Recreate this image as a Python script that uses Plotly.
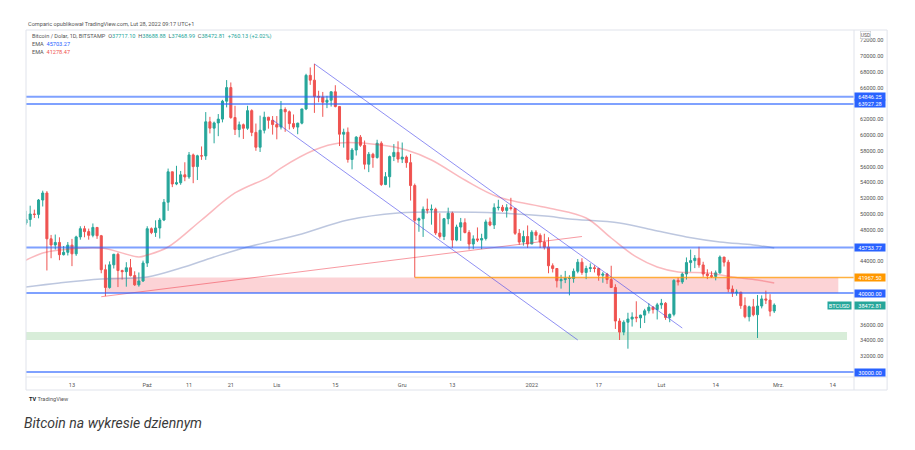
import pandas as pd
import plotly.graph_objects as go

# BTCUSD daily, Bitstamp
dates = pd.date_range("2021-09-01", "2022-02-28", freq="D")

opens = [
    47100, 48850, 49300, 50000, 49950, 51770, 52660, 46860, 46080, 46400, 44850, 45150, 46060, 44960, 47100,
    48140, 47770, 47300, 48300, 47250, 42950, 40700, 43570, 44900, 42840, 42700, 43200, 42200, 41030, 41520,
    43790, 48140, 47650, 48230, 49240, 51490, 55340, 53800, 53960, 54960, 54690, 57480, 56000, 57370, 57350,
    61670, 60870, 61530, 62010, 64280, 66000, 62210, 60690, 61300, 60850, 63080, 60330, 58450, 60600, 62250, 61860,
    61320, 61000, 63230, 62940, 61440, 61000, 61500, 63300, 67550, 66940, 64880, 64800, 64150, 64400, 65470,
    63600, 60100, 60350, 56900, 58100, 59730, 58700, 56300, 57560, 57150, 58960, 53730, 54720, 57270, 57800,
    56950, 57200, 56500, 53600, 49200, 49400, 50600, 50500, 50600, 47600, 47150, 49400, 50100, 46700, 48350,
    48900, 47650, 46200, 46850, 46700, 46900, 49000, 48600, 50800, 50850, 50450, 50800, 50700, 47550, 46450, 47150,
    46200, 47700, 47300, 46450, 45800, 43450, 43100, 41550, 41700, 41850, 41850, 42750, 43900, 42600, 43100,
    43200, 43100, 42250, 42400, 41700, 40700, 36450, 35050, 36300, 36700, 36950, 36850, 37200, 37750, 38200, 37900,
    38500, 38700, 36900, 37300, 41600, 41400, 42400, 43850, 44100, 44400, 43550, 42400, 42200, 42100,
    42550, 44550, 43900, 40500, 40000, 40100, 38400, 37000, 38250, 37250, 38350, 39250, 39100, 37717.10,
]
highs = [
    49150, 50400, 51050, 50550, 51900, 52950, 52900, 47350, 47400, 47050, 45950, 46450, 46850, 47250, 48450,
    48500, 48150, 48800, 48350, 47350, 43600, 44000, 44950, 45100, 42950, 43900, 44300, 42750, 42600, 44100,
    48450, 48300, 49200, 49500, 51900, 55750, 55350, 56100, 55450, 56550, 57850, 57650, 57500, 58550, 62900,
    62300, 61700, 62650, 64450, 66950, 66650, 63700, 61700, 61450, 63700, 63250, 61450, 62450, 62950, 62300, 62400,
    62400, 64300, 63500, 63100, 62600, 61550, 63300, 67750, 68550, 69000, 65600, 65450, 64950, 65500, 66300,
    63600, 60800, 60950, 58350, 59850, 60000, 59300, 57850, 57750, 59400, 59200, 55300, 57400, 58850, 59200,
    59050, 57400, 57600, 53850, 49550, 50950, 51950, 51200, 50800, 50100, 49500, 50800, 50300, 48650, 49500,
    49450, 47950, 47300, 48300, 47500, 49300, 49550, 51350, 51800, 51150, 51250, 52050, 50700, 48100, 47900, 48550,
    47950, 47950, 47550, 47500, 47050, 43750, 43150, 42300, 42800, 42250, 43100, 44300, 44400, 43450, 43750,
    43500, 43200, 42650, 42550, 43450, 41100, 36800, 36550, 37500, 37550, 38950, 37250, 38000, 38700, 38350, 38750,
    39250, 38850, 37400, 41750, 41950, 42600, 44500, 45500, 44800, 45850, 43950, 43000, 42750, 42850,
    44750, 44550, 44200, 40950, 40450, 40150, 39450, 38400, 39250, 39750, 39700, 40300, 39850, 38688.88,
]
lows = [
    46550, 48600, 48400, 49500, 49450, 50950, 42850, 44400, 45500, 44150, 44750, 44750, 43400, 44700, 46750,
    47050, 46750, 47050, 46850, 42500, 39600, 40550, 43100, 40750, 41700, 40800, 42100, 40900, 40800, 41400,
    43300, 47450, 47100, 46900, 49100, 50400, 53400, 53650, 53700, 54150, 54450, 53900, 54300, 56850, 56850,
    60200, 58950, 59850, 61600, 63500, 62050, 60000, 59700, 59500, 60650, 59850, 58000, 57850, 60200, 60800, 60050,
    59450, 60700, 60400, 60700, 60750, 60100, 61350, 63150, 66350, 62800, 64150, 62300, 63400, 63600, 63500,
    58600, 58400, 56500, 55650, 57400, 58500, 55650, 55300, 55850, 57000, 53550, 53650, 53350, 56700, 56500,
    56450, 55850, 51700, 41967.5, 47750, 47100, 50050, 48650, 47350, 46900, 46700, 48700, 45700, 46550, 46600,
    47550, 45500, 45550, 46450, 45550, 46650, 48450, 48100, 50450, 50250, 49550, 50450, 47350, 46100, 46000, 45700,
    46200, 46700, 45700, 45500, 42500, 42600, 40700, 40550, 41250, 39700, 41300, 42500, 42300, 41750, 42650,
    42600, 41550, 41300, 41150, 40650, 35450, 34050, 34650, 32950, 35750, 36300, 35550, 36200, 37400, 37400, 36650,
    38000, 36600, 36300, 37050, 40950, 41150, 41700, 42700, 43150, 43200, 42050, 41750, 41900, 41600,
    42450, 43350, 40100, 39500, 39650, 38000, 36800, 36400, 37050, 34300, 38050, 38600, 37050, 37468.99,
]
closes = [
    48850, 49300, 50000, 49950, 51770, 52660, 46860, 46080, 46400, 44850, 45150, 46060, 44960, 47100, 48140,
    47770, 47300, 48300, 47250, 42950, 40700, 43570, 44900, 42840, 42700, 43200, 42200, 41030, 41520, 43790,
    48140, 47650, 48230, 49240, 51490, 55340, 53800, 53960, 54960, 54690, 57480, 56000, 57370, 57350, 61670,
    60870, 61530, 62010, 64280, 66000, 62210, 60690, 61300, 60850, 63080, 60330, 58450, 60600, 62250, 61860, 61320,
    61000, 63230, 62940, 61440, 61000, 61500, 63300, 67550, 66940, 64880, 64800, 64150, 64400, 65470, 63600,
    60100, 60350, 56900, 58100, 59730, 58700, 56300, 57560, 57150, 58960, 53730, 54720, 57270, 57800, 56950,
    57200, 56500, 53600, 49200, 49400, 50600, 50500, 50600, 47600, 47150, 49400, 50100, 46700, 48350, 48900,
    47650, 46200, 46850, 46700, 46900, 49000, 48600, 50800, 50850, 50450, 50800, 50700, 47550, 46450, 47150, 46200,
    47700, 47300, 46450, 45800, 43450, 43100, 41550, 41700, 41850, 41850, 42750, 43900, 42600, 43100, 43200,
    43100, 42250, 42400, 41700, 40700, 36450, 35050, 36300, 36700, 36950, 36850, 37200, 37750, 38200, 37900, 38500,
    38700, 36900, 37300, 41600, 41400, 42400, 43850, 44100, 44400, 43550, 42400, 42200, 42100, 42550,
    44550, 43900, 40500, 40000, 40100, 38400, 37000, 38250, 37250, 38350, 39250, 39100, 37700, 38472.81,
]

# EMA lines
ema_fast_dates = ["2021-09-01", "2021-09-06", "2021-09-10", "2021-09-20", "2021-09-29", "2021-10-01",
                  "2021-10-06", "2021-10-14", "2021-10-22", "2021-10-30", "2021-11-02", "2021-11-10",
                  "2021-11-16", "2021-11-26", "2021-12-02", "2021-12-08", "2021-12-16", "2021-12-24",
                  "2022-01-05", "2022-01-14", "2022-01-20", "2022-01-26", "2022-01-31", "2022-02-05",
                  "2022-02-12", "2022-02-18", "2022-02-24", "2022-02-28"]
ema_fast = [43900, 45060, 45440, 45700, 44560, 44800, 45820, 49240, 52660, 54680, 55820, 58100,
            58990, 58730, 58100, 56840, 54300, 52150, 50760, 49490, 46960, 44560, 43290, 42660,
            42530, 42030, 41650, 41278.47]
ema_slow_dates = ["2021-09-01", "2021-09-10", "2021-09-20", "2021-10-01", "2021-10-09", "2021-10-17",
                  "2021-10-25", "2021-11-06", "2021-11-18", "2021-11-30", "2021-12-12", "2021-12-24",
                  "2022-01-05", "2022-01-10", "2022-01-22", "2022-01-30", "2022-02-07", "2022-02-15",
                  "2022-02-23", "2022-02-28"]
ema_slow = [40700, 41270, 41770, 42030, 43160, 44560, 45820, 47340, 49240, 50130, 50250, 50130,
            49700, 49370, 48860, 47970, 47090, 46460, 46080, 45703.27]

# drawings
levels = [64846.25, 63927.28, 45753.77, 40000.00, 30000.00]
ray_date, ray_price = "2021-12-04", 41967.50
channel_upper = (["2021-11-10", "2022-02-06"], [69000, 35570])
channel_lower = (["2021-10-31", "2022-01-12"], [61900, 34050])
trend_line = (["2021-09-20", "2022-01-13"], [39530, 47150])
zones = [  # start, end, low, high, colour
    ("2021-09-21", "2022-03-15 08:00", 40000, 41967.5, "rgba(242,54,69,0.22)"),
    ("2021-08-30", "2022-03-17 10:00", 34050, 35050, "rgba(76,175,80,0.22)"),
]

x_ticks = ["2021-09-13", "2021-10-01", "2021-10-11", "2021-10-21", "2021-11-01", "2021-11-15",
           "2021-12-01", "2021-12-13", "2022-01-01", "2022-01-17", "2022-02-01", "2022-02-14",
           "2022-03-01", "2022-03-14"]
x_labels = ["13", "Paź", "11", "21", "Lis", "15", "Gru", "13", "2022", "17", "Lut", "14", "Mrz.", "14"]
y_ticks = [32000, 34000, 36000, 44000, 48000, 50000, 52000, 54000, 56000, 58000, 60000,
           62000, 66000, 68000, 70000, 72000]

UP, DOWN = "#26a69a", "#ef5350"
BLUE = "#2962ff"
FONT = "Roboto"
FS = 5.6

fig = go.Figure()

fig.add_trace(go.Scatter(x=ema_slow_dates, y=ema_slow, mode="lines", line_shape="spline",
                         line=dict(color="rgba(90,115,175,0.4)", width=1.5)))
fig.add_trace(go.Scatter(x=ema_fast_dates, y=ema_fast, mode="lines", line_shape="spline",
                         line=dict(color="rgba(242,54,69,0.35)", width=1.5)))

fig.add_trace(go.Candlestick(
    x=dates, open=opens, high=highs, low=lows, close=closes,
    increasing=dict(line=dict(color=UP, width=1), fillcolor=UP),
    decreasing=dict(line=dict(color=DOWN, width=1), fillcolor=DOWN),
    whiskerwidth=0,
))

for xs, ys, col in [(*channel_upper, "rgba(70,70,235,0.6)"),
                    (*channel_lower, "rgba(70,70,235,0.6)"),
                    (*trend_line, "rgba(242,54,69,0.5)")]:
    fig.add_trace(go.Scatter(x=xs, y=ys, mode="lines", line=dict(color=col, width=1)))

for x0, x1, lo, hi, col in zones:
    fig.add_shape(type="rect", xref="x", yref="y", x0=x0, x1=x1, y0=lo, y1=hi,
                  fillcolor=col, line_width=0, layer="below")

for lv in levels:
    fig.add_shape(type="line", xref="paper", yref="y", x0=0, x1=1, y0=lv, y1=lv,
                  line=dict(color="rgba(41,98,255,0.6)", width=2))
fig.add_shape(type="line", xref="x", yref="y", x0=ray_date, x1="2022-03-19 02:00",
              y0=ray_price, y1=ray_price, line=dict(color="rgba(255,152,0,0.75)", width=1.5))

# chart frame
frame = "#e0e3eb"
fig.add_shape(type="rect", xref="paper", yref="paper", x0=0, x1=1.04, y0=-0.0375, y1=1,
              line=dict(color=frame, width=1))
fig.add_shape(type="line", xref="paper", yref="paper", x0=1, x1=1, y0=-0.0375, y1=1,
              line=dict(color=frame, width=1))
fig.add_shape(type="line", xref="paper", yref="paper", x0=0, x1=1.04, y0=0, y1=0,
              line=dict(color=frame, width=1))

# price scale labels
def price_tag(y, text, bg):
    fig.add_annotation(x=1, y=y, xref="paper", yref="y", xanchor="left", yanchor="middle",
                       text=text, showarrow=False, bgcolor=bg, width=30, height=7, borderpad=0,
                       font=dict(family=FONT, size=FS, color="white"))

for lv in levels:
    price_tag(lv, f"{lv:.2f}", BLUE)
price_tag(ray_price, f"{ray_price:.2f}", "#ff9800")
price_tag(closes[-1], f"{closes[-1]:.2f}", UP)
fig.add_annotation(x=1, y=closes[-1], xref="paper", yref="y", xanchor="right", xshift=-2,
                   text="BTCUSD", showarrow=False, bgcolor=UP, width=23, height=7, borderpad=0,
                   font=dict(family=FONT, size=FS, color="white"))
fig.add_annotation(x=1.0205, y=0.9985, xref="paper", yref="paper", yanchor="top", text="USD",
                   showarrow=False, bgcolor="white", bordercolor="#c8cbd3", borderwidth=0.6,
                   borderpad=0.2, font=dict(family=FONT, size=5, color="#555"))

# texts
grey = "#555"
fig.add_annotation(x=0, y=1.0173, xref="paper", yref="paper", xanchor="left", yanchor="middle",
                   text="Comparic opublikował TradingView.com, Lut 28, 2022 09:17 UTC+1",
                   showarrow=False, font=dict(family=FONT, size=FS, color=grey))
t = f"<span style='color:{UP}'>"
fig.add_annotation(
    x=0.0048, y=0.9827, xref="paper", yref="paper", xanchor="left", yanchor="middle", showarrow=False,
    text=(f"Bitcoin / Dolar, 1D, BITSTAMP  O{t}{opens[-1]:.2f}</span>  H{t}{highs[-1]:.2f}</span>"
          f"  L{t}{lows[-1]:.2f}</span>  C{t}{closes[-1]:.2f}</span>  {t}+760.13 (+2.02%)</span>"),
    font=dict(family=FONT, size=FS, color=grey))
fig.add_annotation(x=0.0048, y=0.9605, xref="paper", yref="paper", xanchor="left", yanchor="middle",
                   showarrow=False, font=dict(family=FONT, size=FS, color=grey),
                   text=f"EMA  <span style='color:{BLUE}'>{ema_slow[-1]:.2f}</span>")
fig.add_annotation(x=0.0048, y=0.9375, xref="paper", yref="paper", xanchor="left", yanchor="middle",
                   showarrow=False, font=dict(family=FONT, size=FS, color=grey),
                   text=f"EMA  <span style='color:{DOWN}'>{ema_fast[-1]:.2f}</span>")
fig.add_annotation(x=0.0012, y=-0.0634, xref="paper", yref="paper", xanchor="left", yanchor="middle",
                   showarrow=False, font=dict(family=FONT, size=FS, color=grey),
                   text="<b style='color:#131722'>TV</b> TradingView")
fig.add_annotation(x=-0.0048, y=-0.1326, xref="paper", yref="paper", xanchor="left", yanchor="middle",
                   showarrow=False, font=dict(family=FONT, size=14, color="#3a3a3a"),
                   text="<i>Bitcoin na wykresie dziennym</i>")

fig.update_xaxes(
    type="date", range=["2021-09-02 00:00", "2022-03-19 02:00"], rangeslider_visible=False,
    tickvals=x_ticks, ticktext=x_labels, showgrid=False, zeroline=False, showline=False, ticks="",
    tickfont=dict(family=FONT, size=FS, color=grey), ticklabelstandoff=3,
)
fig.update_yaxes(
    side="right", range=[29367, 73291], tickvals=y_ticks, ticktext=[f"{v:.2f}" for v in y_ticks],
    showgrid=False, zeroline=False, showline=False, ticks="", ticklabelstandoff=5,
    tickfont=dict(family=FONT, size=FS, color=grey),
)
# the page adds an 8px body margin, so the plot area is pulled up/left by that much
fig.update_layout(
    width=915, height=450, showlegend=False,
    plot_bgcolor="white", paper_bgcolor="white",
    margin=dict(l=18, r=69, t=22, b=81),
    hovermode=False,
)

fig.write_html("out.html")
